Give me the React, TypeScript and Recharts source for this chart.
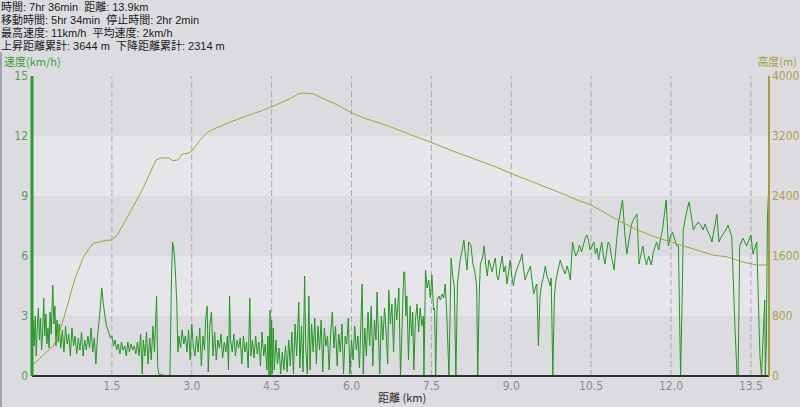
import React from 'react';
import { ComposedChart, Line, XAxis, YAxis, ReferenceArea, ReferenceLine } from 'recharts';

const summaryLines = [
  '時間: 7hr 36min  距離: 13.9km',
  '移動時間: 5hr 34min  停止時間: 2hr 2min',
  '最高速度: 11km/h  平均速度: 2km/h',
  '上昇距離累計: 3644 m  下降距離累計: 2314 m',
];

const xTicks = [1.5, 3.0, 4.5, 6.0, 7.5, 9.0, 10.5, 12.0, 13.5];
const speedTicks = [0, 3, 6, 9, 12, 15];
const elevTicks = [0, 800, 1600, 2400, 3200, 4000];
const bandEdges = [0, 3, 6, 9, 12, 15];

const speedKm = [
  0.00,0.02,0.04,0.06,0.08,0.10,0.12,0.14,0.16,0.18,0.20,0.22,0.24,0.26,0.28,0.30,0.32,0.34,0.36,0.39,0.41,0.43,0.45,0.47,0.49,
  0.51,0.54,0.57,0.60,0.63,0.66,0.69,0.72,0.75,0.78,0.81,0.84,0.87,0.90,0.93,0.96,0.99,1.02,1.05,1.08,1.11,1.14,1.17,1.20,1.23,
  1.27,1.31,1.34,1.37,1.40,1.44,1.47,1.50,1.53,1.56,1.59,1.62,1.65,1.68,1.71,1.74,1.77,1.80,1.83,1.86,1.89,1.92,1.95,1.98,2.01,2.04,2.07,2.09,2.12,2.15,2.18,2.21,2.24,2.27,2.30,2.34,2.36,
  2.38,2.45,2.52,2.59,2.62,2.64,2.66,2.68,2.70,2.72,2.74,2.76,2.79,2.82,2.85,2.88,2.91,2.94,2.97,3.00,3.03,3.06,3.09,3.12,3.15,3.18,3.21,3.24,3.26,3.29,3.31,3.34,3.37,3.40,3.43,3.46,3.49,3.52,
  3.55,3.58,3.61,3.64,3.67,3.69,3.71,3.73,3.76,3.79,3.82,3.85,3.88,3.91,3.94,3.97,4.00,4.03,4.06,4.09,4.11,4.14,4.17,4.20,4.23,4.26,4.29,4.32,4.35,4.38,4.41,4.43,4.45,4.47,4.48,4.50,4.51,4.53,4.55,4.58,4.61,4.64,4.67,4.70,4.73,4.76,4.79,4.82,4.85,4.88,4.91,4.94,4.97,
  5.01,5.03,5.06,5.09,5.12,5.14,5.17,5.20,5.22,5.25,5.28,5.31,5.34,5.37,5.40,5.43,5.46,5.49,5.52,5.55,5.58,5.61,5.64,5.67,5.70,5.73,5.76,5.79,5.82,5.85,5.88,5.91,5.94,5.97,
  6.00,6.03,6.06,6.09,6.12,6.15,6.18,6.20,6.22,6.25,6.28,6.31,6.34,6.37,6.40,6.43,6.46,6.48,6.50,6.53,6.56,6.59,6.62,6.65,6.68,6.70,6.73,6.76,6.79,6.82,6.85,6.89,6.92,6.95,6.98,
  7.00,7.02,7.04,7.07,7.10,7.13,7.15,7.17,7.20,7.23,7.26,7.29,7.32,7.35,7.36,7.39,7.42,7.45,7.48,7.51,7.54,7.56,7.58,7.61,7.64,7.67,7.70,7.73,7.76,7.79,7.83,7.87,7.90,7.93,7.96,7.99,
  8.04,8.08,8.11,8.14,8.17,8.20,8.24,8.28,8.31,8.35,8.37,8.40,8.42,8.46,8.49,8.52,8.55,8.58,8.61,8.64,8.67,8.70,8.73,8.76,8.79,8.83,8.86,8.89,8.92,8.95,8.98,
  9.01,9.04,9.07,9.10,9.14,9.17,9.20,9.23,9.26,9.30,9.33,9.36,9.39,9.42,9.45,9.48,9.51,9.54,9.57,9.60,9.64,9.67,9.70,9.73,9.75,9.78,9.81,9.84,9.87,9.92,9.95,9.98,
  10.01,10.05,10.08,10.11,10.15,10.18,10.21,10.25,10.28,10.32,10.36,10.39,10.42,10.45,10.48,10.52,10.55,10.58,10.61,10.64,10.67,10.70,10.73,10.76,10.79,10.82,10.85,10.88,10.93,10.97,
  11.01,11.05,11.09,11.13,11.17,11.21,11.26,11.31,11.36,11.40,11.43,11.47,11.50,11.54,11.58,11.63,11.67,11.73,11.77,11.80,11.84,11.88,11.91,11.95,11.99,
  12.03,12.07,12.11,12.14,12.16,12.18,12.21,12.23,12.27,12.31,12.34,12.38,12.42,12.46,12.51,12.57,12.60,12.64,12.68,12.73,12.77,12.80,12.83,12.86,12.90,12.93,12.98,
  13.03,13.07,13.10,13.14,13.20,13.24,13.26,13.29,13.35,13.42,13.50,13.54,13.61,13.67,13.70,13.73,13.76,13.77,13.79,13.81,13.84,
];

const speedKmh = [
  1.2,2.8,1.5,3.0,1.0,2.5,3.4,1.8,2.9,1.3,2.2,3.9,2.0,3.1,1.6,2.4,1.4,3.2,2.1,4.55,2.6,3.5,1.5,2.8,1.7,
  2.6,1.4,2.3,1.2,2.5,1.6,2.1,1.0,2.4,1.5,2.0,1.1,1.9,1.3,2.2,1.0,1.8,1.3,2.0,1.4,2.4,1.2,1.9,0.6,2.0,
  3.0,4.4,3.6,3.0,2.5,2.2,1.9,2.0,1.5,1.8,1.3,1.6,1.1,1.7,1.3,1.5,1.0,1.7,1.2,1.6,1.3,1.5,1.1,1.7,1.0,2.1,0.1,1.8,1.0,2.2,0.6,1.9,0.8,2.5,1.2,4.0,0.5,
  0.1,0.05,0.0,0.05,5.0,6.7,6.4,5.8,4.8,3.6,1.2,2.0,1.4,2.3,1.6,2.0,1.2,2.3,0.8,2.6,1.5,1.0,2.0,1.2,2.4,0.5,2.0,1.3,2.8,3.5,0.2,2.6,3.2,1.0,2.2,0.8,1.8,1.4,
  2.1,0.9,1.7,1.2,2.0,0.3,4.0,1.8,1.2,2.1,1.0,1.8,1.4,1.9,0.6,2.0,1.2,1.7,0.4,3.9,1.0,1.8,0.9,2.0,1.1,1.7,0.5,2.2,1.0,1.6,0.3,2.0,0.0,3.3,0.0,2.8,0.1,2.4,0.3,1.8,0.6,1.4,0.1,1.2,0.3,1.5,0.2,1.8,0.5,2.2,0.1,2.6,1.0,
  3.7,0.4,2.5,0.2,5.0,1.5,0.1,4.0,0.3,2.6,1.2,2.9,0.6,2.5,1.3,2.8,0.2,2.4,1.5,2.0,0.3,2.2,3.2,1.4,2.5,0.5,2.1,1.2,2.6,0.1,2.0,1.6,2.9,0.1,
  1.8,0.8,2.5,1.3,2.0,0.4,3.0,4.6,0.1,2.4,1.0,3.2,1.5,3.5,0.5,2.8,1.8,4.2,2.5,0.1,3.0,1.8,3.4,2.2,0.6,4.3,2.6,3.6,1.2,3.9,2.8,4.4,0.0,2.5,5.2,
  5.2,3.0,4.0,0.8,3.5,2.0,3.2,0.3,2.8,3.6,2.2,3.4,2.5,3.0,0.0,5.3,4.4,4.8,3.9,5.05,3.3,3.4,0.0,3.8,4.0,3.8,4.1,3.9,4.6,3.0,0.0,5.9,5.0,4.5,0.0,4.6,
  5.8,6.3,6.8,6.0,5.3,6.7,6.55,5.6,5.3,4.5,0.0,4.2,5.6,5.9,6.5,5.6,5.0,5.8,5.5,5.2,5.6,5.9,5.0,4.8,5.4,6.0,5.2,5.5,4.6,5.2,5.8,
  5.0,4.5,5.0,5.3,5.6,5.8,6.1,5.4,4.8,5.1,5.3,5.5,4.8,4.1,4.4,4.6,1.5,4.0,4.6,4.9,5.5,5.0,4.8,4.5,4.9,0.0,4.0,4.8,5.2,5.8,5.5,5.3,
  5.1,5.5,5.2,4.8,6.7,6.3,6.0,6.2,6.55,6.2,6.6,6.9,7.05,6.8,6.3,6.5,6.7,6.1,6.4,5.8,6.3,6.7,6.0,5.6,6.2,6.7,6.55,6.0,5.3,6.5,
  7.6,8.2,8.8,7.2,6.1,6.8,7.6,7.9,8.1,5.6,6.0,6.5,6.0,5.55,6.0,5.55,6.2,6.7,6.3,6.8,7.3,8.2,8.8,6.5,7.0,
  7.2,6.8,6.5,6.5,3.0,0.0,4.0,7.3,7.9,8.4,8.7,8.0,7.3,7.5,7.7,7.5,7.3,7.6,7.3,7.0,6.7,7.2,7.6,8.1,6.7,6.9,7.1,
  7.3,7.55,7.3,7.0,2.5,0.0,0.0,6.5,6.9,6.5,7.05,6.1,6.7,1.0,0.0,2.0,3.8,0.0,1.5,7.8,9.8,
];

const elevKm = [0.02,0.2,0.4,0.5,0.6,0.8,0.95,1.05,1.15,1.3,1.5,1.6,1.8,2.04,2.2,2.33,2.42,2.57,2.64,2.74,2.82,2.95,3.02,3.15,3.3,3.5,3.73,4.0,4.35,4.67,4.85,5.0,5.1,5.29,5.5,5.74,6.0,6.23,6.5,6.79,7.1,7.48,7.9,8.36,8.7,9.0,9.5,10.0,10.24,10.5,11.0,11.36,11.8,12.3,12.8,13.05,13.35,13.61,13.84];
const elevM = [150,270,400,560,780,1280,1560,1680,1770,1795,1815,1880,2130,2440,2680,2880,2907,2907,2870,2880,2960,2975,3013,3140,3253,3320,3387,3460,3547,3640,3700,3760,3773,3760,3690,3613,3510,3440,3380,3307,3220,3120,3000,2880,2790,2700,2560,2420,2347,2280,2080,1947,1830,1720,1610,1590,1520,1480,1480];

const speedData = speedKm.map((km, i) => ({ km, v: speedKmh[i] }));
const elevData = elevKm.map((km, i) => ({ km, e: elevM[i] }));

const W = 800;
const H = 407;
const tickFont = '"DejaVu Sans Condensed", "Liberation Sans", sans-serif';
const summaryFont = '"Liberation Sans Narrow", "Liberation Sans", "Noto Sans CJK JP", sans-serif';

export default function App() {
  return (
    <div style={{ position: 'absolute', left: 0, top: 0, width: W, height: H, background: '#dcdce0', overflow: 'hidden', fontFamily: '"Noto Sans CJK JP", sans-serif' }}>
      <div style={{ position: 'absolute', left: 0, top: 52, width: 2, height: H - 52, background: '#a4a4a8' }} />
      <ComposedChart width={W} height={H} margin={{ top: 76, right: 0, bottom: 0, left: 0 }}>
        <XAxis
          dataKey="km"
          type="number"
          domain={[0, 13.84]}
          allowDataOverflow
          ticks={xTicks}
          tickFormatter={(v: number) => v.toFixed(1)}
          tickLine={false}
          tickSize={2}
          tickMargin={3}
          height={31}
          axisLine={{ stroke: '#303030', strokeWidth: 2 }}
          tick={{ fill: '#8a8a8a', fontSize: 12, fontFamily: tickFont }}
        />
        <YAxis
          yAxisId="left"
          orientation="left"
          width={32}
          domain={[0, 15]}
          ticks={speedTicks}
          tickLine={false}
          tickSize={0}
          tickMargin={4}
          axisLine={{ stroke: '#2e9a2e', strokeWidth: 3 }}
          tick={{ fill: '#5a9a5a', fontSize: 12, fontFamily: tickFont }}
        />
        <YAxis
          yAxisId="right"
          orientation="right"
          width={31}
          domain={[0, 4000]}
          ticks={elevTicks}
          tickLine={false}
          tickSize={0}
          tickMargin={3}
          axisLine={{ stroke: '#a29c3c', strokeWidth: 2 }}
          tick={{ fill: '#aaa248', fontSize: 12, fontFamily: tickFont }}
        />
        {bandEdges.slice(0, -1).map((b, i) => (
          <ReferenceArea
            key={'band' + i}
            yAxisId="left"
            y1={b}
            y2={bandEdges[i + 1]}
            fill={i % 2 === 1 ? '#e6e6ea' : '#dcdce0'}
            fillOpacity={1}
            stroke="none"
            ifOverflow="hidden"
          />
        ))}
        {xTicks.map((t) => (
          <ReferenceLine key={'g' + t} yAxisId="left" x={t} stroke="#a9a9ae" strokeDasharray="6 3" strokeWidth={1} />
        ))}
        <Line
          data={speedData}
          yAxisId="left"
          dataKey="v"
          type="linear"
          stroke="#229622"
          strokeWidth={1}
          dot={false}
          activeDot={false}
          isAnimationActive={false}
        />
        <Line
          data={elevData}
          yAxisId="right"
          dataKey="e"
          type="linear"
          stroke="#a3a035"
          strokeWidth={1}
          dot={false}
          activeDot={false}
          isAnimationActive={false}
        />
      </ComposedChart>
      {summaryLines.map((s, i) => (
        <div
          key={i}
          style={{ position: 'absolute', left: 1, top: 1 + i * 13, fontSize: 11, lineHeight: '12px', color: '#1a1a1a', whiteSpace: 'pre', fontFamily: summaryFont }}
        >
          {s}
        </div>
      ))}
      <div style={{ position: 'absolute', left: 4, top: 55, fontSize: 11, lineHeight: '13px', color: '#36a036' }}>速度(km/h)</div>
      <div style={{ position: 'absolute', right: 3, top: 55, fontSize: 11, lineHeight: '13px', color: '#a39d3e' }}>高度(m)</div>
      <div style={{ position: 'absolute', left: 378, top: 391, fontSize: 11, lineHeight: '13px', color: '#2a2a2a' }}>距離 (km)</div>
    </div>
  );
}
